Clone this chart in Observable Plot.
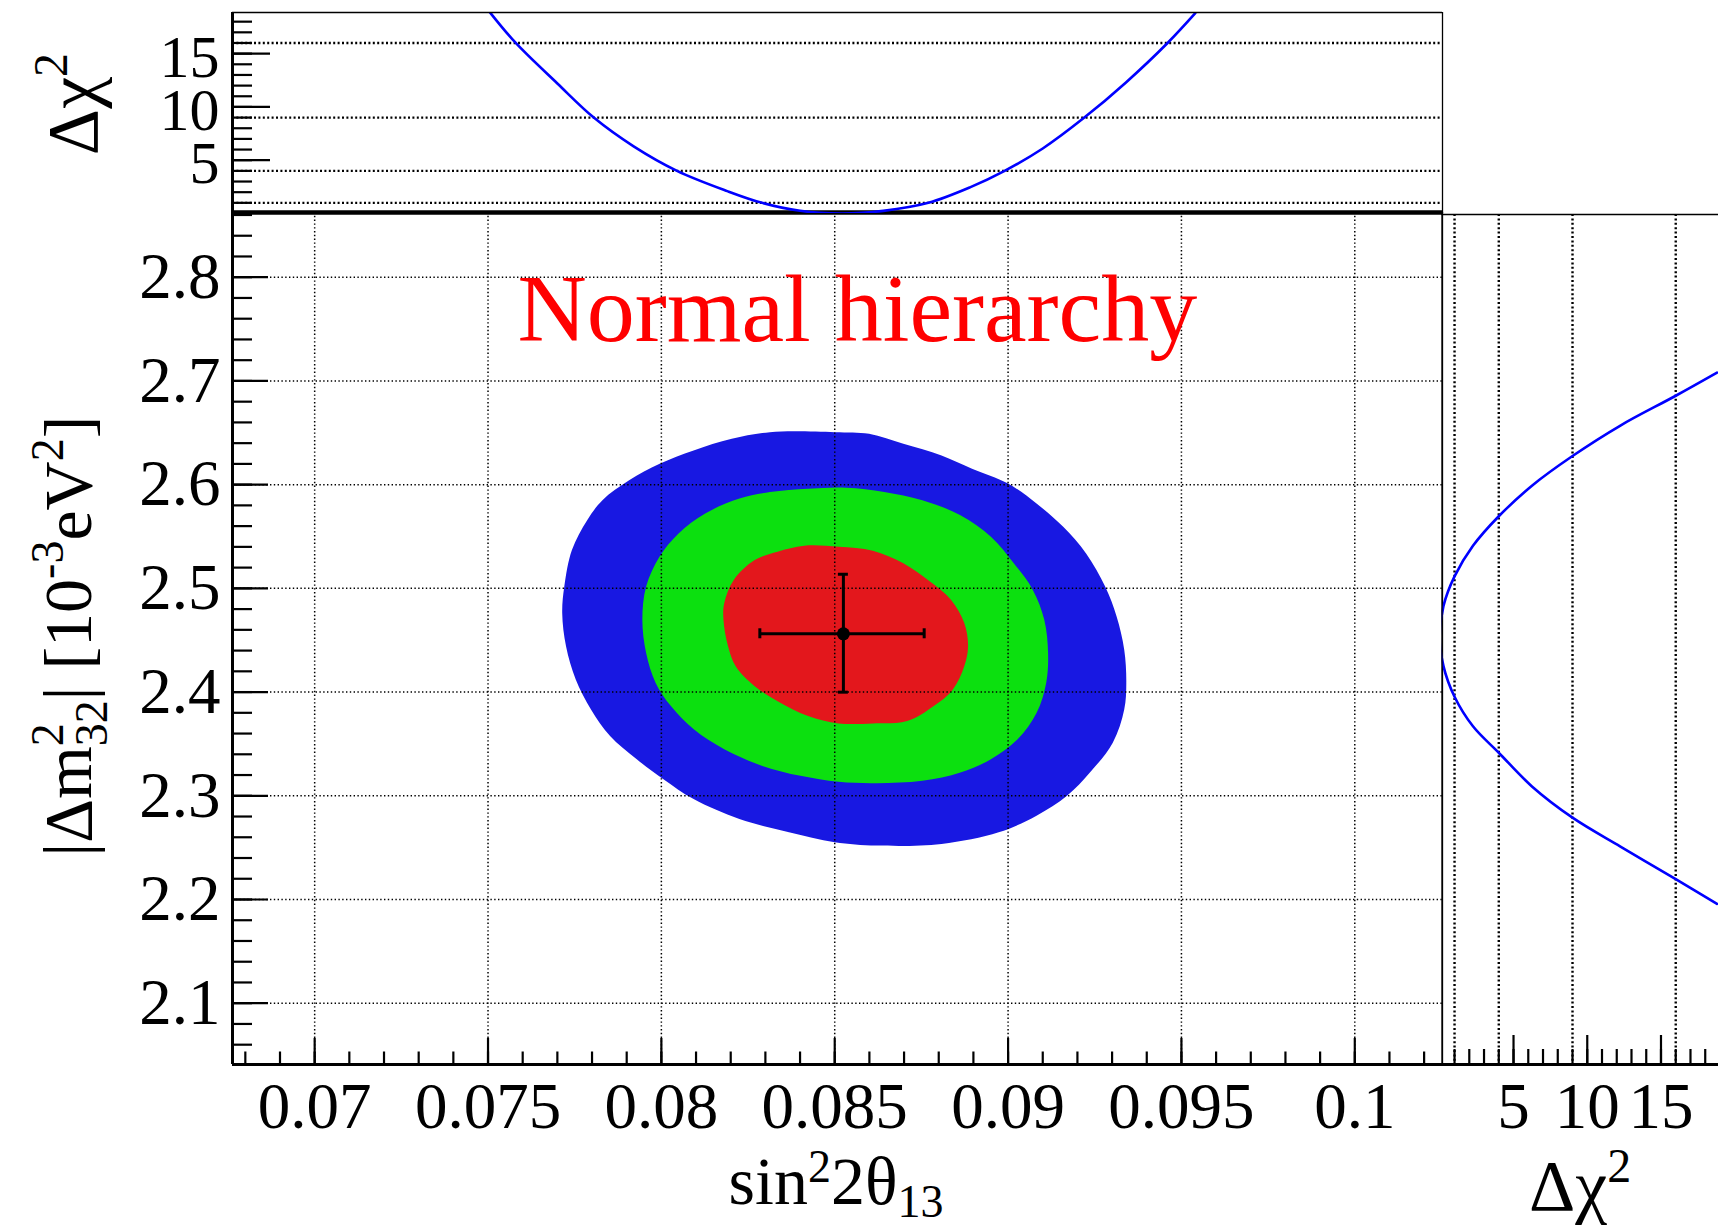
<!DOCTYPE html>
<html><head><meta charset="utf-8">
<script src="https://cdn.jsdelivr.net/npm/d3@7"></script>
<script src="https://cdn.jsdelivr.net/npm/@observablehq/plot@0.6"></script>
<style>
html,body{margin:0;padding:0;background:#fff;}
#chart{position:relative;width:1718px;height:1230px;overflow:hidden;background:#fff;}
#chart svg{position:absolute;left:0;top:0;}
</style></head><body><div id="chart"></div>
<script>
// ---------- data ----------
const s2tTicks = [0.07, 0.075, 0.08, 0.085, 0.09, 0.095, 0.1];
const s2tTickLabels = ["0.07", "0.075", "0.08", "0.085", "0.09", "0.095", "0.1"];
const dm2Ticks = [2.1, 2.2, 2.3, 2.4, 2.5, 2.6, 2.7, 2.8];
const dm2TickLabels = ["2.1", "2.2", "2.3", "2.4", "2.5", "2.6", "2.7", "2.8"];
const chi2Ticks = [5, 10, 15];
const chi2TickLabels = ["5", "10", "15"];
const chi2Levels = [1, 4, 9, 16];

// 3 sigma (blue) contour [sin^2 2theta13, dm2_32]
const contour3s = [[0.08313,2.6506],[0.08500,2.6506],[0.08599,2.6490],[0.08698,2.6394],[0.08808,2.6282],[0.08896,2.6154],[0.09000,2.6010],[0.09082,2.5818],[0.09159,2.5593],[0.09225,2.5337],[0.09280,2.5017],[0.09313,2.4729],[0.09335,2.4409],[0.09341,2.4089],[0.09335,2.3832],[0.09302,2.3512],[0.09236,2.3224],[0.09170,2.3000],[0.09082,2.2808],[0.08973,2.2648],[0.08808,2.2536],[0.08621,2.2520],[0.08500,2.2552],[0.08368,2.2648],[0.08225,2.2776],[0.08093,2.2968],[0.08006,2.3160],[0.07929,2.3352],[0.07852,2.3576],[0.07797,2.3832],[0.07753,2.4121],[0.07725,2.4441],[0.07714,2.4761],[0.07720,2.5017],[0.07742,2.5369],[0.07786,2.5657],[0.07830,2.5850],[0.07907,2.6042],[0.07995,2.6202],[0.08093,2.6330],[0.08203,2.6442]];
// 2 sigma (green) contour
const contour2s = [[0.084231,2.59616],[0.085330,2.59712],[0.086429,2.59296],[0.087527,2.58495],[0.088626,2.57054],[0.089505,2.54973],[0.090165,2.52412],[0.090714,2.49851],[0.091044,2.46969],[0.091154,2.43768],[0.091099,2.40886],[0.090824,2.38004],[0.090275,2.35443],[0.089505,2.33522],[0.088626,2.32241],[0.087527,2.31441],[0.086209,2.31217],[0.085110,2.31345],[0.084011,2.31921],[0.082912,2.32882],[0.081813,2.34482],[0.080934,2.36403],[0.080275,2.38645],[0.079835,2.40886],[0.079560,2.43768],[0.079451,2.46969],[0.079560,2.50171],[0.079945,2.53052],[0.080495,2.55293],[0.081264,2.57214],[0.082253,2.58655],[0.083132,2.59296]];
// 1 sigma (red) contour
const contour1s = [[0.084121,2.54109],[0.085110,2.54013],[0.086099,2.53629],[0.086978,2.52412],[0.087747,2.50651],[0.088352,2.48890],[0.088736,2.46649],[0.088846,2.44408],[0.088736,2.42487],[0.088407,2.40246],[0.087857,2.38645],[0.087088,2.37204],[0.086099,2.36980],[0.085110,2.36980],[0.084231,2.37684],[0.083352,2.39125],[0.082692,2.40566],[0.082143,2.42487],[0.081923,2.44408],[0.081791,2.46969],[0.081813,2.48570],[0.082088,2.50811],[0.082692,2.52732],[0.083352,2.53533]];

// best fit with 1 sigma errors
const bestS2t = 0.08525, bestS2tLo = 0.08284, bestS2tHi = 0.08758;
const bestDm2 = 2.4562, bestDm2Lo = 2.3999, bestDm2Hi = 2.5136;

// Delta chi2 profile vs sin^2 2theta13 (top panel)
const profS2t     = [0.07505, 0.0758, 0.0770, 0.07805, 0.0792, 0.08045, 0.0819, 0.0829, 0.0840, 0.0852, 0.0864, 0.0877, 0.0889, 0.0899, 0.0910, 0.0922, 0.0934, 0.0946, 0.0954];
const profS2tChi2 = [18.9,    16,     12.2,   9,       6.3,    4,       2.1,    1,      0.25,   0,      0.25,   1,      2.45,   4,      6.1,    9,      12.3,   16,     18.8];
// Delta chi2 profile vs |dm2_32| (right panel)
const profDm2     = [2.708, 2.6857, 2.657, 2.6276, 2.599, 2.5695, 2.541, 2.5115, 2.483, 2.454, 2.425, 2.3955, 2.367, 2.3415, 2.309, 2.2789, 2.251, 2.2197, 2.1958];
const profDm2Chi2 = [18.8,  16,     12.25, 9,      6.25,  4,      2.25,  1,      0.25,  0,     0.25,  1,      2.25,  4,      6.25,  9,      12.25, 16,     18.8];

// ---------- layout ----------
const W = 1718, H = 1230;
const FL = 232, FR = 1442, FT = 212, FB = 1064;
const FONT = "'Liberation Serif','Times New Roman',serif";
const FS = 65;
const xDomain = [0.06763, 0.10253];
const yDomain = [2.0409, 2.8624];
const cDomainTop = [0, 18.86];
const cDomainRight = [0.15, 18.9];
const BLUE = "#1818e2", GREEN = "#0ce00f", RED = "#e3171c";
const dot = "1.4,2.4", dotHeavy = "2,2.4";

const tbl = (vals, labels) => vals.map((v, i) => ({v, label: labels[i]}));
const xMinor = d3.range(68, 103).map(i => i / 1000);
const yMinor = d3.range(103, 144).map(i => i / 50);
const cMinor = d3.range(1, 19);
const pw = FR - FL, ph = FB - FT;

const chart = document.getElementById("chart");
const baseStyle = {background: "transparent", fontFamily: FONT, fontSize: FS + "px", color: "black", overflow: "visible"};

// ---------- main panel ----------
const main = Plot.plot({
  width: W, height: H,
  marginLeft: FL, marginRight: W - FR, marginTop: FT, marginBottom: H - FB,
  x: {domain: xDomain, axis: null},
  y: {domain: yDomain, axis: null},
  style: baseStyle,
  marks: [
    Plot.line(contour3s, {x: d => d[0], y: d => d[1], fill: BLUE, stroke: "none", curve: "catmull-rom-closed"}),
    Plot.line(contour2s, {x: d => d[0], y: d => d[1], fill: GREEN, stroke: "none", curve: "catmull-rom-closed"}),
    Plot.line(contour1s, {x: d => d[0], y: d => d[1], fill: RED, stroke: "none", curve: "catmull-rom-closed"}),
    Plot.ruleX(s2tTicks, {stroke: "black", strokeWidth: 1.5, strokeDasharray: dot}),
    Plot.ruleY(dm2Ticks, {stroke: "black", strokeWidth: 1.5, strokeDasharray: dot}),
    // error bars
    Plot.ruleY([bestDm2], {x1: bestS2tLo, x2: bestS2tHi, stroke: "black", strokeWidth: 3}),
    Plot.ruleX([bestS2t], {y1: bestDm2Lo, y2: bestDm2Hi, stroke: "black", strokeWidth: 3}),
    Plot.ruleX([bestS2tLo, bestS2tHi], {y1: bestDm2, y2: bestDm2, insetTop: -5, insetBottom: -5, stroke: "black", strokeWidth: 3}),
    Plot.ruleY([bestDm2Lo, bestDm2Hi], {x1: bestS2t, x2: bestS2t, insetLeft: -5, insetRight: -5, stroke: "black", strokeWidth: 3}),
    Plot.dot([0], {x: () => bestS2t, y: () => bestDm2, r: 6.5, fill: "black", stroke: "none"}),
    // ticks (inside)
    Plot.ruleX(xMinor, {insetTop: ph - 12.5, stroke: "black", strokeWidth: 2.2}),
    Plot.ruleX(s2tTicks, {insetTop: ph - 26, stroke: "black", strokeWidth: 2.2}),
    Plot.ruleY(yMinor, {insetRight: pw - 20, stroke: "black", strokeWidth: 2.2}),
    Plot.ruleY(dm2Ticks, {insetRight: pw - 36, stroke: "black", strokeWidth: 2.2}),
    // frame
    Plot.ruleY([yDomain[0]], {stroke: "black", strokeWidth: 3}),
    Plot.ruleX([xDomain[0]], {stroke: "black", strokeWidth: 3}),
    Plot.ruleX([xDomain[1]], {stroke: "black", strokeWidth: 1.3}),
    Plot.ruleY([yDomain[1]], {stroke: "black", strokeWidth: 4.5}),
    // labels
    Plot.text(tbl(s2tTicks, s2tTickLabels), {x: "v", text: "label", frameAnchor: "bottom", lineAnchor: "bottom", dy: 63, fontSize: FS}),
    Plot.text(tbl(dm2Ticks, dm2TickLabels), {y: "v", text: "label", frameAnchor: "left", textAnchor: "end", lineAnchor: "middle", dx: -12, fontSize: FS}),
    Plot.text(["Normal hierarchy"], {frameAnchor: "top-left", textAnchor: "start", lineAnchor: "bottom", dx: 285, dy: 128, fill: "#ff0000", fontSize: 96})
  ]
});
chart.appendChild(main);

// ---------- top panel ----------
const TT = 12, TH = 214;
const topPanel = Plot.plot({
  width: W, height: TH,
  marginLeft: FL, marginRight: W - FR, marginTop: TT, marginBottom: 1,
  x: {domain: xDomain, axis: null},
  y: {domain: cDomainTop, axis: null},
  style: baseStyle,
  marks: [
    Plot.ruleY(chi2Levels, {stroke: "black", strokeWidth: 2.4, strokeDasharray: dotHeavy}),
    Plot.line(profS2t.map((s, i) => ({s, c: profS2tChi2[i]})), {x: "s", y: "c", stroke: "#0000ff", strokeWidth: 2.6, curve: "catmull-rom", clip: true}),
    Plot.ruleY(cMinor, {insetRight: pw - 20, stroke: "black", strokeWidth: 2.2}),
    Plot.ruleY(chi2Ticks, {insetRight: pw - 38, stroke: "black", strokeWidth: 2.2}),
    Plot.ruleX([xDomain[0]], {stroke: "black", strokeWidth: 3}),
    Plot.ruleX([xDomain[1]], {stroke: "black", strokeWidth: 1.3}),
    Plot.ruleY([cDomainTop[1]], {stroke: "black", strokeWidth: 1.3}),
    Plot.text(tbl(chi2Ticks, chi2TickLabels), {y: "v", text: "label", frameAnchor: "left", textAnchor: "end", lineAnchor: "middle", dx: -13, dy: 4, fontSize: 60})
  ]
});
chart.appendChild(topPanel);

// ---------- right panel ----------
const RL = 1441.5;
const rightPanel = Plot.plot({
  width: W, height: H,
  marginLeft: RL, marginRight: 0, marginTop: FT, marginBottom: H - FB,
  x: {domain: cDomainRight, axis: null},
  y: {domain: yDomain, axis: null},
  style: baseStyle,
  marks: [
    Plot.ruleX(chi2Levels, {stroke: "black", strokeWidth: 2.4, strokeDasharray: dotHeavy, insetTop: 2}),
    Plot.line(profDm2.map((m, i) => ({m, c: profDm2Chi2[i]})), {x: "c", y: "m", stroke: "#0000ff", strokeWidth: 2.6, curve: "catmull-rom", clip: true}),
    Plot.ruleX(cMinor, {insetTop: ph - 15, stroke: "black", strokeWidth: 2.2}),
    Plot.ruleX(chi2Ticks, {insetTop: ph - 29, stroke: "black", strokeWidth: 2.2}),
    Plot.ruleY([yDomain[0]], {stroke: "black", strokeWidth: 3}),
    Plot.ruleX([cDomainRight[0]], {stroke: "black", strokeWidth: 1.3}),
    Plot.ruleY([yDomain[1]], {dy: 2, stroke: "black", strokeWidth: 1.3}),
    Plot.text(tbl(chi2Ticks, chi2TickLabels), {x: "v", text: "label", frameAnchor: "bottom", lineAnchor: "bottom", dy: 63, fontSize: FS})
  ]
});
chart.appendChild(rightPanel);

// ---------- axis titles (with sub/superscripts) ----------
function title(svg, x, y, rot, size, parts) {
  const t = d3.select(svg).append("text")
    .attr("transform", `translate(${x},${y}) rotate(${rot})`)
    .attr("text-anchor", "middle")
    .attr("font-family", FONT)
    .attr("font-size", size)
    .attr("fill", "black");
  for (const p of parts) {
    const s = t.append("tspan").text(p.t);
    if (p.size) s.attr("font-size", p.size);
    if (p.dy) s.attr("dy", p.dy);
    if (p.dx) s.attr("dx", p.dx);
  }
}
const TS = 68, SS = 46;
title(main, 836, 1204, 0, TS, [
  {t: "sin"}, {t: "2", size: SS, dy: -22}, {t: "2θ", dy: 22}, {t: "13", size: SS, dy: 13}
]);
title(main, 91, 636, -90, TS, [
  {t: "|Δm"}, {t: "2", size: SS, dy: -28}, {t: "32", size: SS, dy: 44, dx: -23},
  {t: "| [10", dy: -16}, {t: "-3", size: SS, dy: -28}, {t: "eV", dy: 28}, {t: "2", size: SS, dy: -28}, {t: "]", dy: 28}
]);
title(main, 97, 104, -90, 72, [
  {t: "Δχ"}, {t: "2", size: 48, dy: -30}
]);
title(main, 1580, 1210, 0, 72, [
  {t: "Δχ"}, {t: "2", size: 48, dy: -28}
]);
</script></body></html>
